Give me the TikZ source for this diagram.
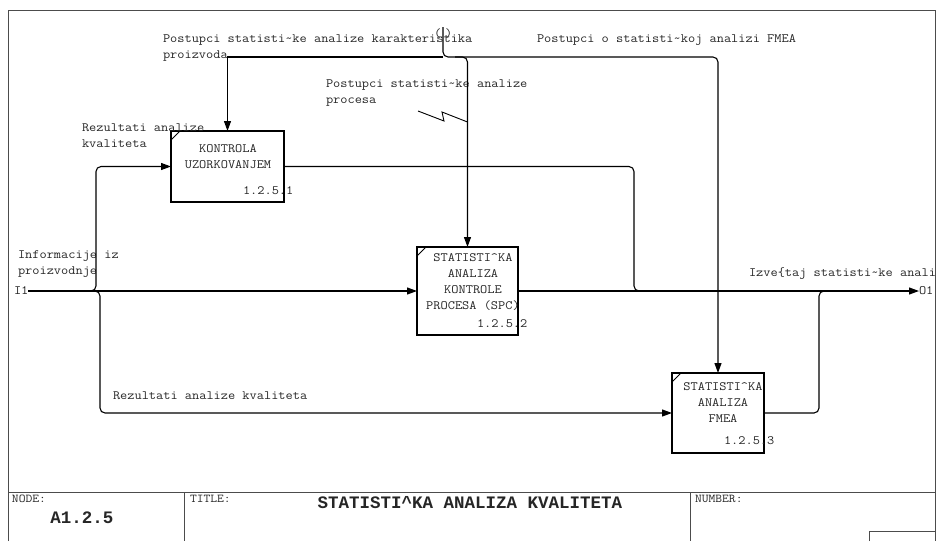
\documentclass[tikz,border=0pt]{standalone}
\usepackage{fontspec}
\setmainfont{Latin Modern Mono}[FakeStretch=1.1]
\newfontfamily\heavymono{Liberation Mono}
\usetikzlibrary{arrows.meta,calc}
\newcommand{\tld}{\textasciitilde}
\newcommand{\crt}{\textasciicircum}
\begin{document}
\begin{tikzpicture}[x=1pt,y=-1pt,
  every node/.style={inner sep=0pt,outer sep=0pt,text=black!85},
  lbl/.style={font=\fontsize{12.7}{16}\selectfont,anchor=west,align=left},
  small/.style={font=\fontsize{12}{14}\selectfont,anchor=west},
  big/.style={font=\heavymono\fontsize{17.5}{20}\selectfont\bfseries},
  act/.style={draw,line width=1.8pt,anchor=north west},
  acttext/.style={font=\fontsize{12.7}{15.8}\selectfont,align=center},
  flow/.style={line width=1.1pt,rounded corners=5pt},
  tip/.style={-{Triangle[length=10pt,width=7pt]}},
  border/.style={line width=0.9pt,draw=black!70},
  corner/.style={line width=1pt}
]
\useasboundingbox (0,0) rectangle (937,541);

% sheet frame and title block
\draw[border] (8,541) -- (8,10) -- (935,10) -- (935,541);
\draw[border] (8,492) -- (935,492);
\draw[border] (184,492) -- (184,541);
\draw[border] (690,492) -- (690,541);
\draw[border] (869,541) -- (869,531) -- (935,531);
\node[small] (nodehdr) at (12,499) {NODE:};
\node[small] (titlehdr) at (190,499) {TITLE:};
\node[small] (numhdr) at (695,499) {NUMBER:};
\node[big] (nodeid) at (82,518) {A1.2.5};
\node[big] (title) at (470,503) {STATISTI\crt KA ANALIZA KVALITETA};

% activity boxes
\node[act,minimum width=113pt,minimum height=71pt] (b1) at (171,131) {};
\node[act,minimum width=101pt,minimum height=88pt] (b2) at (417,247) {};
\node[act,minimum width=92pt,minimum height=80pt] (b3) at (672,373) {};
\foreach \b in {b1,b2,b3}
  \draw[corner] ($(\b.north west)+(0,9)$) -- ($(\b.north west)+(9,0)$);

\node[acttext] (b1t) at (228,157) {KONTROLA\\UZORKOVANJEM};
\node[lbl] (b1n) at (243,191) {1.2.5.1};
\node[acttext] (b2t) at (473,282) {STATISTI\crt KA\\ANALIZA\\KONTROLE\\PROCESA (SPC)};
\node[lbl] (b2n) at (477,324) {1.2.5.2};
\node[acttext] (b3t) at (723,402.5) {STATISTI\crt KA\\ANALIZA\\FMEA};
\node[lbl] (b3n) at (724,441) {1.2.5.3};

% arrow labels
\node[lbl] (lc1) at (163,48) {Postupci statisti\tld ke analize karakteristika\\proizvoda};
\node[lbl] (lc2) at (326,93) {Postupci statisti\tld ke analize\\procesa};
\node[lbl] (lc3) at (537,40) {Postupci o statisti\tld koj analizi FMEA};
\node[lbl] (li1) at (82,136) {Rezultati analize\\kvaliteta};
\node[lbl] (li2) at (18,264) {Informacije iz\\proizvodnje};
\node[lbl] (i1) at (14,291) {I1};
\node[lbl] (li3) at (113,396) {Rezultati analize kvaliteta};
\begin{scope}
  \clip (0,0) rectangle (934,541);
  \node[lbl] (lo1) at (749,274) {Izve\{taj statisti\tld ke anali};
\end{scope}
\node[lbl] (o1) at (919,291) {O1};

% tunnel at the top of the control arrow
\node[lbl] (tunl) at (434,34) {(};
\node[lbl] (tunr) at (445,34) {)};
\coordinate (csrc) at (443,27);

% controls
\draw[flow,tip] (csrc) -- (443,57) -- (b3.north |- 0,57) -- (b3.north);
\draw[flow,tip] (455,57) -- (b2.north |- 0,57) -- (b2.north);
\draw[flow,tip,sharp corners] (443,57) -- (b1.north |- 0,57) -- (b1.north);
\draw[line width=0.9pt] (418,111) -- (444,121) -- (442,112) -- (b2.north |- 0,122);

% inputs
\draw[flow,tip] (i1.east) -- (b2.west);
\draw[flow,tip] (86,291) -- (96,291) -- (96,0 |- b1.west) -- (b1.west);
\draw[flow,tip] (90,291) -- (100,291) -- (100,0 |- b3.west) -- (b3.west);

% outputs
\draw[flow,tip] (b2.east) -- (o1.west);
\draw[flow] (b1.east) -- (634,0 |- b1.east) -- (634,291) -- (650,291);
\draw[flow] (b3.east) -- (819,0 |- b3.east) -- (819,291) -- (832,291);
\end{tikzpicture}
\end{document}
